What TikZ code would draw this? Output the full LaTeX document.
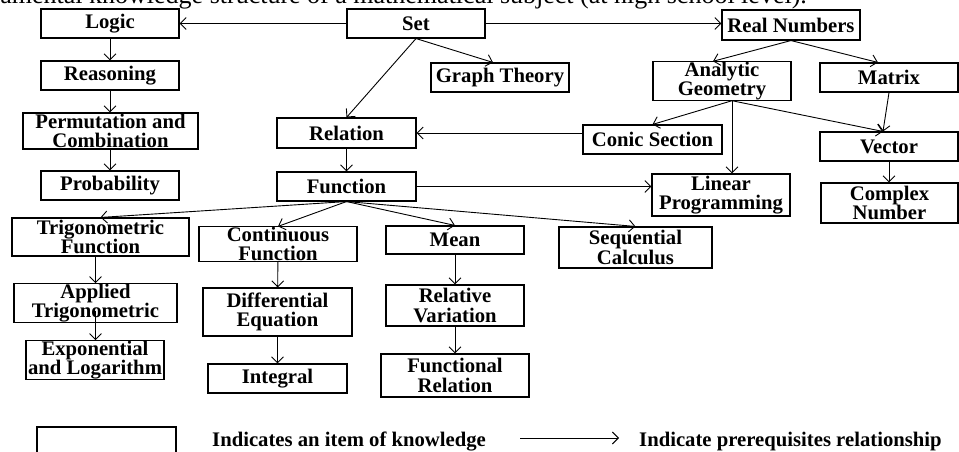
\documentclass[tikz,border=0pt]{standalone}
\usepackage{fontspec}
\setmainfont{Liberation Serif}
\usepackage{tikz}
\usetikzlibrary{arrows.meta}

\begin{document}
\begin{tikzpicture}[x=1pt,y=-1pt,
    item/.style={draw,line width=1.1pt,inner sep=0pt,align=center,font=\fontsize{20.7}{19.5}\selectfont\bfseries},
    pre/.style={-{Straight Barb[length=6pt,width=12pt]},line width=0.9pt}]
    % frame
    \useasboundingbox (0,0) rectangle (959,452);
    % caption, cut by the page edge
    \node[anchor=base east,inner sep=0pt,font=\fontsize{26}{28}\selectfont] (caption) at (807,4) {Fundamental knowledge structure of a mathematical subject (at high school level).};

    % first row
    \node[item,minimum width=138pt,minimum height=29pt] (logic) at (110,23.5) {Logic};
    \node[item,minimum width=138pt,minimum height=29pt] (set) at (416,23.5) {Set};
    \node[item,minimum width=138pt,minimum height=30pt] (realnum) at (791,25) {Real Numbers};
    % left column
    \node[item,minimum width=138pt,minimum height=29pt] (reason) at (110,75.5) {Reasoning};
    \node[item,minimum width=175pt,minimum height=36pt] (perm) at (110.5,131) {Permutation and\\Combination};
    \node[item,minimum width=138pt,minimum height=29pt] (prob) at (110,185.5) {Probability};
    % middle and right
    \node[item,minimum width=138pt,minimum height=29pt] (graph) at (500,77.5) {Graph Theory};
    \node[item,minimum width=138pt,minimum height=38pt] (anageo) at (722,81) {Analytic\\Geometry};
    \node[item,minimum width=138pt,minimum height=29pt] (matrix) at (889,77.5) {Matrix};
    \node[item,minimum width=139pt,minimum height=30pt] (relation) at (346.5,133) {Relation};
    \node[item,minimum width=139pt,minimum height=29pt] (conic) at (652.5,139.5) {Conic Section};
    \node[item,minimum width=138pt,minimum height=29pt] (vector) at (889,146.5) {Vector};
    \node[item,minimum width=139pt,minimum height=29pt] (function) at (346.5,186.5) {Function};
    \node[item,minimum width=138pt,minimum height=42pt] (linprog) at (721,195) {Linear\\Programming};
    \node[item,minimum width=137pt,minimum height=40pt] (complex) at (889.5,203) {Complex\\Number};
    % lower rows
    \node[item,minimum width=177pt,minimum height=38pt] (trig) at (100.5,237) {Trigonometric\\Function};
    \node[item,minimum width=158pt,minimum height=34pt] (contin) at (278,244) {Continuous\\Function};
    \node[item,minimum width=138pt,minimum height=28pt] (mean) at (455,240) {Mean};
    \node[item,minimum width=153pt,minimum height=41pt] (seqcalc) at (635.5,247.5) {Sequential\\Calculus};
    \node[item,minimum width=163pt,minimum height=38pt] (applied) at (95.5,303) {Applied\\Trigonometric};
    \node[item,minimum width=149pt,minimum height=48pt] (diffeq) at (277.5,312) {Differential\\Equation};
    \node[item,minimum width=138pt,minimum height=41pt] (relvar) at (455,305.5) {Relative\\Variation};
    \node[item,minimum width=138pt,minimum height=36pt] (expo) at (95,360) {Exponential\\and Logarithm};
    \node[item,minimum width=139pt,minimum height=29pt] (integral) at (277.5,378.5) {Integral};
    \node[item,minimum width=148pt,minimum height=43pt] (funcrel) at (455,375.5) {Functional\\Relation};

    % prerequisites
    \draw[pre] (set.west) -- (logic.east);
    \draw[pre] (set.east) -- (set.east -| realnum.west);
    \draw[pre] (set.south) -- ([xshift=-7pt]graph.north);
    \draw[pre] (set.south) -- (relation.north);
    \draw[pre] (logic) -- (reason);
    \draw[pre] (reason) -- (perm.north -| reason.south);
    \draw[pre] (perm.south -| prob.north) -- (prob);
    \draw[pre] (relation) -- (function);
    \draw[pre] (conic.west |- relation.east) -- (relation.east);
    \draw[pre] (function.east) -- (function.east -| linprog.west);
    \draw[pre] (realnum.south) -- ([xshift=-9pt]anageo.north);
    \draw[pre] (realnum.south) -- ([xshift=-11pt]matrix.north);
    \draw[pre] ([xshift=10pt]anageo.south) -- (conic.north);
    \draw[pre] ([xshift=10pt]anageo.south) -- ([xshift=11pt]linprog.north);
    \draw[pre] ([xshift=10pt]anageo.south) -- ([xshift=-6pt]vector.north);
    \draw[pre] (matrix.south) -- ([xshift=-6pt]vector.north);
    \draw[pre] (vector.south) -- (vector.south |- complex.north);
    \draw[pre] (function.south) -- (trig.north);
    \draw[pre] (function.south) -- (contin.north);
    \draw[pre] (function.south) -- (mean.north);
    \draw[pre] (function.south) -- (seqcalc.north);
    \draw[pre] (trig.south -| applied.north) -- (applied.north);
    \draw[pre] ([yshift=12pt]applied.south) -- (applied.south |- expo.north);
    \draw[pre] (contin) -- (diffeq);
    \draw[pre] (diffeq) -- (integral);
    \draw[pre] (mean) -- (relvar);
    \draw[pre] (relvar) -- (funcrel);

    % key
    \draw[line width=1.1pt] (37,427) rectangle (176,470);
    \node[anchor=base west,inner sep=0pt,font=\fontsize{20.7}{24}\selectfont\bfseries] (keyitem) at (212,446) {Indicates an item of knowledge};
    \coordinate (keyA) at (520,438);
    \coordinate (keyB) at (619,438);
    \draw[pre] (keyA) -- (keyB);
    \node[anchor=base west,inner sep=0pt,font=\fontsize{20.7}{24}\selectfont\bfseries] (keypre) at (639,446) {Indicate prerequisites relationship};
\end{tikzpicture}
\end{document}
